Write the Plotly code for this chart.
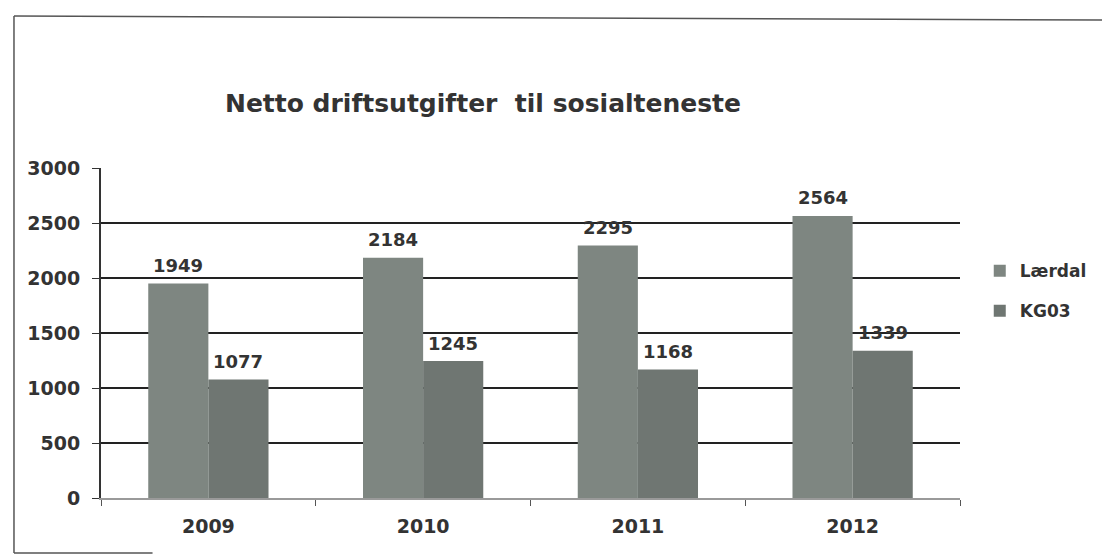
import plotly.graph_objects as go

years = ["2009", "2010", "2011", "2012"]
laerdal = [1949, 2184, 2295, 2564]
kg03 = [1077, 1245, 1168, 1339]
y_ticks = [0, 500, 1000, 1500, 2000, 2500, 3000]

FONT = "DejaVu Sans"
TXT = "#333333"
C_L = "#7e8681"
C_K = "#6f7672"

fig = go.Figure()
fig.add_trace(go.Bar(x=years, y=laerdal, name="<b>Lærdal</b>", legendgroup="a",
                     marker=dict(color=C_L, line=dict(width=0))))
fig.add_trace(go.Bar(x=years, y=kg03, name="<b>KG03</b>", legendgroup="b",
                     marker=dict(color=C_K, line=dict(width=0))))

# category axes take the category's serial number for annotations
annotations = []
for series, shift in ((laerdal, -30), (kg03, 30)):
    for i, v in enumerate(series):
        annotations.append(dict(x=i, y=v, xref="x", yref="y", text=f"<b>{v}</b>",
                                showarrow=False, xshift=shift, yshift=18,
                                yanchor="middle", xanchor="center",
                                font=dict(family=FONT, size=18, color=TXT)))

LINE = dict(color="#555555", width=1.5)
fig.update_layout(
    width=1102, height=558,
    paper_bgcolor="white", plot_bgcolor="white",
    barmode="group", bargap=0.44, bargroupgap=0,
    margin=dict(l=101, r=142, t=168, b=60, autoexpand=False),
    title=dict(text="<b>Netto driftsutgifter  til sosialteneste</b>",
               x=0.4447, xref="paper", xanchor="center", y=0.8154, yanchor="middle",
               font=dict(family=FONT, size=25, color=TXT)),
    font=dict(family=FONT, color=TXT),
    legend=dict(x=1.023, y=0.742, xanchor="left", yanchor="top",
                font=dict(family=FONT, size=17, color=TXT),
                itemwidth=30, tracegroupgap=15, bgcolor="rgba(0,0,0,0)"),
    xaxis=dict(type="category", range=[-0.5, 3.5], showline=True, linecolor="#9a9a9a", linewidth=2,
               ticks="outside", tickcolor="#555555", ticklen=6,
               tickson="boundaries", ticklabelstandoff=10,
               tickvals=years, ticktext=[f"<b>{y}</b>" for y in years],
               tickfont=dict(family=FONT, size=19, color=TXT),
               showgrid=False),
    yaxis=dict(range=[0, 3000], tickvals=y_ticks,
               ticktext=[f"<b>{v}</b>" for v in y_ticks],
               showline=True, linecolor="#333333", linewidth=2,
               ticks="outside", tickcolor="#333333", ticklen=7,
               ticklabelstandoff=8,
               showgrid=True, gridcolor="#222222", gridwidth=1.5,
               zeroline=False,
               tickfont=dict(family=FONT, size=19, color=TXT)),
    annotations=annotations,
    shapes=[
        dict(type="line", xref="paper", yref="paper", x0=-0.1013, x1=1.17, y0=1.4606, y1=1.4485, line=LINE),
        dict(type="line", xref="paper", yref="paper", x0=-0.1013, x1=-0.1013, y0=1.4606, y1=-0.1667, line=LINE),
        dict(type="line", xref="paper", yref="paper", x0=-0.1013, x1=0.06, y0=-0.1667, y1=-0.1667, line=LINE),
    ],
)

fig.write_html("out.html", config={"displayModeBar": False},
               post_script="document.body.style.margin='0';")
